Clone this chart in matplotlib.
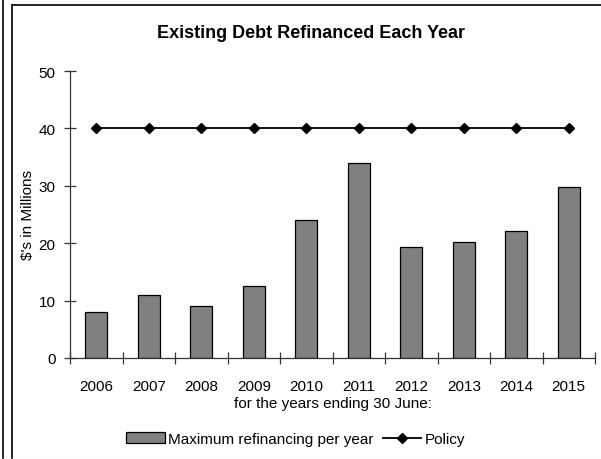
import numpy as np
import matplotlib.pyplot as plt
from matplotlib.lines import Line2D

plt.rcParams["font.family"] = ["Liberation Sans", "DejaVu Sans"]

years = ["2006", "2007", "2008", "2009", "2010", "2011", "2012", "2013", "2014", "2015"]
max_refinancing = [8.0, 11.0, 9.0, 12.5, 24.0, 34.0, 19.3, 20.2, 22.1, 29.8]
policy = [40, 40, 40, 40, 40, 40, 40, 40, 40, 40]

fig = plt.figure(figsize=(6.01, 4.60), dpi=100)

# outer frame lines
fig.add_artist(Line2D([2.5 / 601, 2.5 / 601], [0, 1], color="black", lw=1.2))
fig.add_artist(Line2D([11.5 / 601, 11.5 / 601], [0, 1 - 5.5 / 460], color="black", lw=1.2))
fig.add_artist(Line2D([11.5 / 601, 1], [1 - 5.5 / 460, 1 - 5.5 / 460], color="black", lw=1.2))
fig.add_artist(Line2D([0, 1], [0.5 / 460, 0.5 / 460], color="#e8e8e8", lw=1))

ax = fig.add_axes([70 / 601, 101 / 460, 525 / 601, 287 / 460])

x = np.arange(len(years))
bars = ax.bar(x, max_refinancing, width=0.42, color="#808080", edgecolor="black", linewidth=0.9,
              label="Maximum refinancing per year", zorder=2)
line, = ax.plot(x, policy, color="black", lw=1.3, marker="D", markersize=5.5, label="Policy", zorder=3)

ax.set_xlim(-0.5, len(years) - 0.5)
ax.set_ylim(0, 50)
ax.set_yticks([0, 10, 20, 30, 40, 50])

# tick marks on category boundaries, labels in the middle
ax.set_xticks(np.arange(len(years) + 1) - 0.5)
ax.set_xticklabels([])
ax.set_xticks(x, minor=True)
ax.set_xticklabels(years, minor=True)
ax.tick_params(axis="x", which="major", direction="inout", length=9, width=0.9, color="#333333")
ax.tick_params(axis="x", which="minor", length=0, pad=15, labelsize=11)
ax.tick_params(axis="y", direction="inout", length=9, width=0.9, color="#333333", labelsize=11, pad=6)

for side in ["top", "right"]:
    ax.spines[side].set_visible(False)
for side in ["left", "bottom"]:
    ax.spines[side].set_color("#333333")
    ax.spines[side].set_linewidth(0.9)

ax.set_xlabel("for the years ending 30 June:", fontsize=11, labelpad=2)
ax.set_ylabel("$'s in Millions", fontsize=11)
ax.yaxis.set_label_coords(-0.066, 0.5)
fig.text(311 / 601, 1 - 33 / 460, "Existing Debt Refinanced Each Year", ha="center", va="center",
         fontsize=13, fontweight="bold")

fig.legend(handles=[bars, line], loc="center", bbox_to_anchor=(296 / 601, 1 - 440 / 460), ncol=2,
           frameon=False, fontsize=11, handlelength=2.5, handleheight=0.7, columnspacing=0.6,
           handletextpad=0.25)

fig.savefig("out.png", dpi=100)
